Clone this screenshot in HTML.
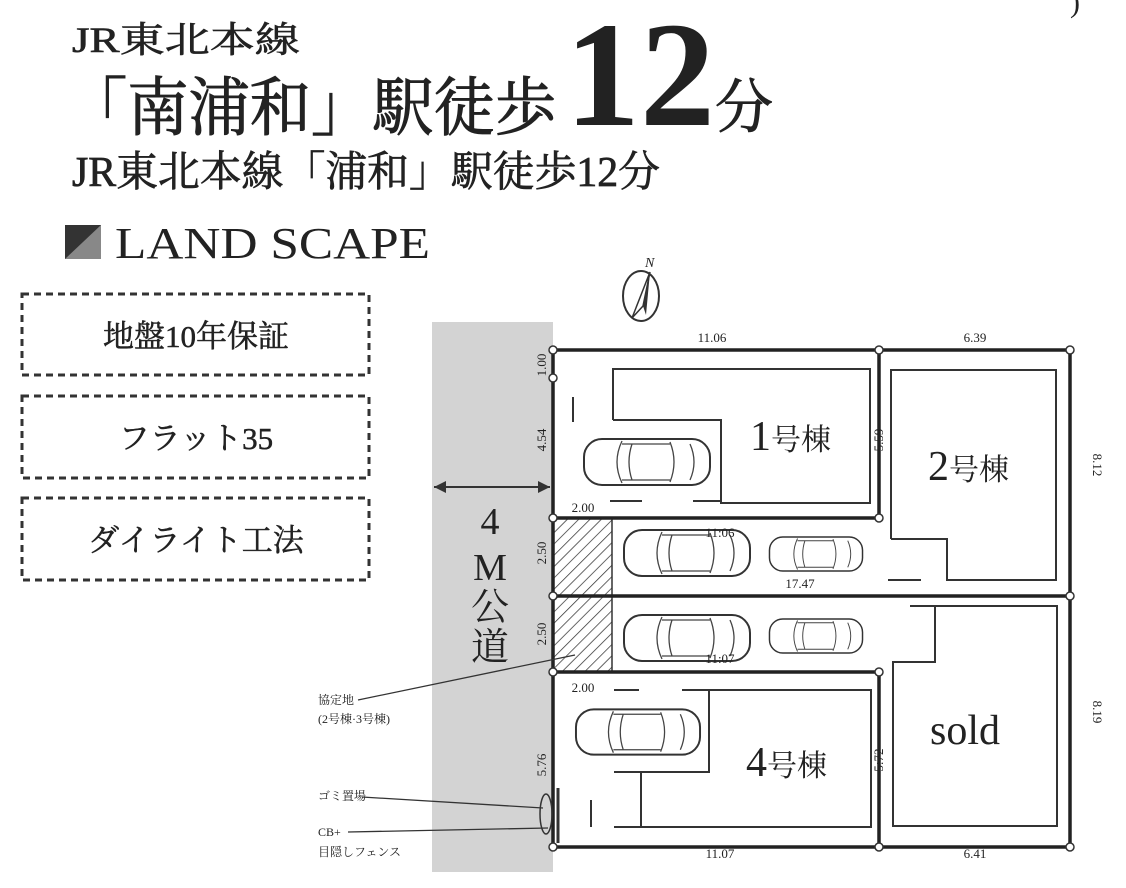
<!DOCTYPE html>
<html><head><meta charset="utf-8"><style>
html,body{margin:0;padding:0;background:#fff;}
svg{display:block;}
text{font-family:"Liberation Serif","Noto Serif CJK SC","Noto Serif CJK JP",serif;fill:#222;}
</style></head><body>
<svg width="1126" height="888" viewBox="0 0 1126 888" xmlns="http://www.w3.org/2000/svg">
<defs>
<symbol id="car" viewBox="0 0 130 52">
<rect x="2" y="3" width="126" height="46" rx="18" fill="#fff" stroke="#333" stroke-width="2"/>
<path d="M40 5 Q30 26 40 47 M88 6 Q96 26 88 46 M40 8 L88 8 M40 44 L88 44 M50 8 Q44 26 50 44 M108 8 Q116 26 108 44" fill="none" stroke="#444" stroke-width="1.3"/>
</symbol>
<pattern id="hatch" width="8" height="8" patternUnits="userSpaceOnUse" patternTransform="rotate(45)">
<line x1="0" y1="0" x2="0" y2="8" stroke="#333" stroke-width="1.5"/>
</pattern>
</defs>

<!-- header -->
<text x="72" y="52" font-size="36" textLength="228" lengthAdjust="spacingAndGlyphs" stroke="#222" stroke-width="0.6">JR東北本線</text>
<text x="66" y="130" font-size="64" textLength="490" lengthAdjust="spacingAndGlyphs" stroke="#222" stroke-width="1">「南浦和」駅徒歩</text>
<text x="565" y="125" font-size="150" font-weight="bold">12</text>
<text x="715" y="127" font-size="58" stroke="#222" stroke-width="1">分</text>
<text x="72" y="186" font-size="42" textLength="588" lengthAdjust="spacingAndGlyphs" stroke="#222" stroke-width="0.7">JR東北本線「浦和」駅徒歩12分</text>
<text x="1070" y="12" font-size="30">)</text>

<rect x="65" y="225" width="36" height="34" fill="#888"/>
<polygon points="65,225 101,225 65,259" fill="#333"/>
<text x="115" y="258" font-size="44" textLength="315" lengthAdjust="spacingAndGlyphs">LAND SCAPE</text>

<!-- dashed boxes -->
<g fill="none" stroke="#333" stroke-width="3" stroke-dasharray="7,5">
<rect x="22" y="294" width="347" height="81"/>
<rect x="22" y="396" width="347" height="82"/>
<rect x="22" y="498" width="347" height="82"/>
</g>
<g stroke="#222" stroke-width="0.5">
<text x="196" y="347" font-size="31" text-anchor="middle">地盤10年保証</text>
<text x="196" y="449" font-size="31" text-anchor="middle">フラット35</text>
<text x="196" y="551" font-size="31" text-anchor="middle">ダイライト工法</text>
</g>

<!-- compass -->
<ellipse cx="641" cy="296" rx="18" ry="25" fill="none" stroke="#333" stroke-width="2"/>
<polygon points="650,272 632,318 643,306" fill="#fff" stroke="#333" stroke-width="1.5"/>
<polygon points="650,272 643,306 646,315" fill="#333"/>
<text x="645" y="267" font-size="14" font-style="italic" font-family="Liberation Sans">N</text>

<!-- road -->
<rect x="432" y="322" width="121" height="550" fill="#d3d3d3"/>
<line x1="434" y1="487" x2="550" y2="487" stroke="#333" stroke-width="2"/>
<polygon points="434,487 446,481 446,493" fill="#333"/>
<polygon points="550,487 538,481 538,493" fill="#333"/>
<text x="490" y="534" font-size="38" text-anchor="middle">4</text>
<text x="490" y="580" font-size="38" text-anchor="middle">M</text>
<text x="490" y="620" font-size="38" text-anchor="middle">公</text>
<text x="490" y="660" font-size="38" text-anchor="middle">道</text>

<!-- hatch -->
<rect x="553" y="518" width="59" height="154" fill="url(#hatch)" stroke="#333" stroke-width="1.5"/>

<!-- lot lines -->
<g fill="none" stroke="#222" stroke-width="3.5">
<rect x="553" y="350" width="517" height="497"/>
<line x1="879" y1="350" x2="879" y2="518"/>
<line x1="553" y1="518" x2="879" y2="518"/>
<line x1="553" y1="596" x2="1070" y2="596"/>
<line x1="553" y1="672" x2="879" y2="672"/>
<line x1="879" y1="672" x2="879" y2="847"/>
</g>
<!-- buildings -->
<g fill="none" stroke="#333" stroke-width="2">
<polyline points="613,420 613,369 870,369 870,503 721,503 721,420 613,420"/>
<polyline points="891,539 891,370 1056,370 1056,580 947,580 947,539 891,539"/>
<polyline points="910,606 1057,606 1057,826 893,826 893,662 935,662 935,606"/>
<polyline points="709,690 871,690 871,827 614,827"/>
<polyline points="641,827 641,772 614,772 709,772 709,690"/>
<line x1="573" y1="397" x2="573" y2="422"/>
<line x1="610" y1="501" x2="642" y2="501"/>
<line x1="693" y1="501" x2="720" y2="501"/>
<line x1="888" y1="580" x2="921" y2="580"/>
<line x1="614" y1="690" x2="639" y2="690"/>
<line x1="682" y1="690" x2="709" y2="690"/>
<line x1="591" y1="800" x2="591" y2="827"/>
</g>
<!-- corner circles -->
<g fill="#fff" stroke="#333" stroke-width="1.5">
<circle cx="553" cy="350" r="4"/><circle cx="553" cy="378" r="4"/><circle cx="879" cy="350" r="4"/><circle cx="1070" cy="350" r="4"/>
<circle cx="553" cy="518" r="4"/><circle cx="879" cy="518" r="4"/>
<circle cx="553" cy="596" r="4"/><circle cx="1070" cy="596" r="4"/>
<circle cx="553" cy="672" r="4"/><circle cx="879" cy="672" r="4"/>
<circle cx="553" cy="847" r="4"/><circle cx="879" cy="847" r="4"/><circle cx="1070" cy="847" r="4"/>
</g>
<!-- cars -->
<use href="#car" x="582" y="436" width="130" height="52"/>
<use href="#car" x="622" y="526" width="130" height="54"/>
<use href="#car" x="768" y="529" width="96" height="50"/>
<use href="#car" x="622" y="611" width="130" height="54"/>
<use href="#car" x="768" y="611" width="96" height="50"/>
<use href="#car" x="574" y="706" width="128" height="52"/>

<!-- garbage/fence -->
<ellipse cx="546" cy="814" rx="6" ry="20" fill="none" stroke="#333" stroke-width="1.5"/>
<line x1="558" y1="788" x2="558" y2="843" stroke="#333" stroke-width="3"/>

<!-- labels -->
<text x="750" y="450" font-size="42">1<tspan font-size="30">号棟</tspan></text>
<text x="928" y="480" font-size="42">2<tspan font-size="30">号棟</tspan></text>
<text x="746" y="776" font-size="42">4<tspan font-size="30">号棟</tspan></text>
<text x="930" y="744" font-size="42">sold</text>

<g font-size="13">
<text x="712" y="342" text-anchor="middle">11.06</text>
<text x="975" y="342" text-anchor="middle">6.39</text>
<text x="583" y="512" text-anchor="middle">2.00</text>
<text x="720" y="537" text-anchor="middle">11:06</text>
<text x="800" y="588" text-anchor="middle">17.47</text>
<text x="720" y="663" text-anchor="middle">11:07</text>
<text x="583" y="692" text-anchor="middle">2.00</text>
<text x="720" y="858" text-anchor="middle">11.07</text>
<text x="975" y="858" text-anchor="middle">6.41</text>
<text transform="translate(546,365) rotate(-90)" text-anchor="middle">1.00</text>
<text transform="translate(546,440) rotate(-90)" text-anchor="middle">4.54</text>
<text transform="translate(546,553) rotate(-90)" text-anchor="middle">2.50</text>
<text transform="translate(546,634) rotate(-90)" text-anchor="middle">2.50</text>
<text transform="translate(546,765) rotate(-90)" text-anchor="middle">5.76</text>
<text transform="translate(883,440) rotate(-90)" text-anchor="middle">5.59</text>
<text transform="translate(883,760) rotate(-90)" text-anchor="middle">5:72</text>
<text transform="translate(1093,465) rotate(90)" text-anchor="middle">8.12</text>
<text transform="translate(1093,712) rotate(90)" text-anchor="middle">8.19</text>
</g>
<g font-size="12">
<text x="318" y="704">協定地</text>
<text x="318" y="723">(2号棟·3号棟)</text>
<text x="318" y="800">ゴミ置場</text>
<text x="318" y="836">CB+</text>
<text x="318" y="856">目隠しフェンス</text>
</g>
<g stroke="#333" stroke-width="1.3">
<line x1="358" y1="700" x2="575" y2="655"/>
<line x1="362" y1="797" x2="543" y2="808"/>
<line x1="348" y1="832" x2="548" y2="828"/>
</g>
</svg>
</body></html>
